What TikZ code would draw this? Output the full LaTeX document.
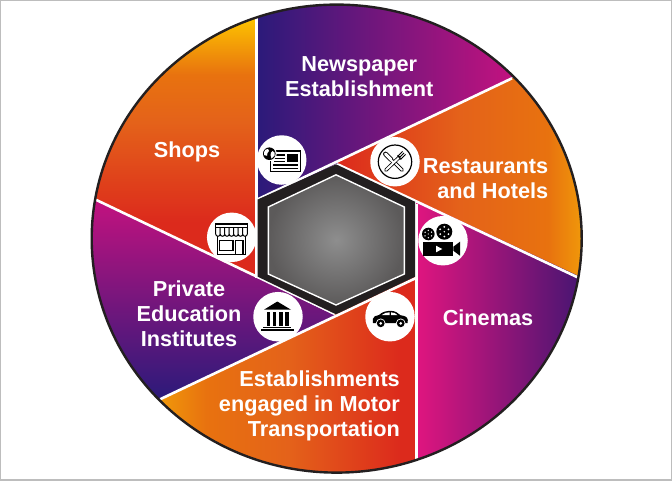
\documentclass[tikz,border=0pt]{standalone}
\usepackage{fontspec}
\setmainfont{Liberation Sans}
\definecolor{inkdark}{HTML}{231F20}
\definecolor{rimgray}{HTML}{BDBDBD}
\definecolor{hexmid}{HTML}{8E8E8E}
\definecolor{hexedge}{HTML}{5C5A5A}
\definecolor{sIndigo}{HTML}{2B1A7A}
\definecolor{sMagenta}{HTML}{C2127F}
\definecolor{sPink}{HTML}{E0157F}
\definecolor{sViolet}{HTML}{4A1572}
\definecolor{sRed}{HTML}{DC2A1C}
\definecolor{sOrange}{HTML}{E4621A}
\definecolor{sOrangeB}{HTML}{E8720F}
\definecolor{sAmber}{HTML}{F0980A}
\definecolor{sYellow}{HTML}{FDC500}
\pgfdeclarehorizontalshading{shNews}{100bp}{color(0bp)=(sIndigo); color(25bp)=(sIndigo); color(75bp)=(sMagenta); color(100bp)=(sMagenta)}
\pgfdeclarehorizontalshading{shRest}{100bp}{color(0bp)=(sRed); color(25bp)=(sRed); color(50bp)=(sOrange); color(68bp)=(sOrangeB); color(75bp)=(sAmber); color(100bp)=(sAmber)}
\pgfdeclarehorizontalshading{shCine}{100bp}{color(0bp)=(sPink); color(25bp)=(sPink); color(75bp)=(sViolet); color(100bp)=(sViolet)}
\pgfdeclarehorizontalshading{shMotor}{100bp}{color(0bp)=(sAmber); color(25bp)=(sAmber); color(34bp)=(sOrangeB); color(50bp)=(sOrange); color(72bp)=(sRed); color(100bp)=(sRed)}
\pgfdeclareverticalshading{shEdu}{100bp}{color(0bp)=(sIndigo); color(25bp)=(sIndigo); color(75bp)=(sMagenta); color(100bp)=(sMagenta)}
\pgfdeclareverticalshading{shShop}{100bp}{color(0bp)=(sRed); color(25bp)=(sRed); color(36bp)=(sRed); color(55bp)=(sOrange); color(64bp)=(sOrangeB); color(75bp)=(sYellow); color(100bp)=(sYellow)}
\tikzset{
  label text/.style={text=white,font=\fontsize{21.7}{25}\selectfont\bfseries,inner sep=0pt,align=center},
  label right/.style={label text,align=right,anchor=east},
  icon disc/.style={circle,fill=white,minimum size=49.5pt,inner sep=0pt},
  gap line/.style={white,line width=2.6pt},
  ink/.style={black,line width=1.3pt},
}
\begin{document}
\begin{tikzpicture}[x=1pt,y=-1pt]
\useasboundingbox (0,0) rectangle (672,480);
\fill[white] (0,0) rectangle (672,480);
\draw[rimgray,line width=2.6pt] (0,0) rectangle (672,480);
\def\rim{(336.7,238.6) ellipse (245 and 234)}
% wedges
\begin{scope}\clip \rim;
  \begin{scope}\clip (257,0) -- (530,0) -- (530,70) -- (338,163) -- (257,203) -- cycle;
    \shade[shading=shNews] (257,0) rectangle (512,205);
  \end{scope}
  \begin{scope}\clip (336,163) -- (600,36) -- (600,288) -- cycle;
    \shade[shading=shRest] (338,60) rectangle (582,290);
  \end{scope}
  \begin{scope}\clip (416,200) -- (600,286) -- (600,480) -- (416,480) -- cycle;
    \shade[shading=shCine] (416,200) rectangle (578,470);
  \end{scope}
  \begin{scope}\clip (416,276) -- (120,417) -- (120,480) -- (416,480) -- cycle;
    \shade[shading=shMotor] (160,276) rectangle (416,480);
  \end{scope}
  \begin{scope}\clip (336,316) -- (258,278) -- (70,188) -- (70,480) -- (150,404) -- cycle;
    \shade[shading=shEdu] (90,200) rectangle (340,400);
  \end{scope}
  \begin{scope}\clip (257,0) -- (70,0) -- (70,188) -- (257,278) -- cycle;
    \shade[shading=shShop] (90,17) rectangle (257,280);
  \end{scope}
  \draw[gap line] (512,78.3) -- (257.3,199.5);
  \draw[gap line] (578,277.5) -- (338,164.5);
  \draw[gap line] (416.6,204) -- (416.6,470);
  \draw[gap line] (160,399.3) -- (416,278);
  \draw[gap line] (96,199.8) -- (334,313.5);
  \draw[gap line] (256.6,10) -- (256.6,278);
\end{scope}
\draw[inkdark,line width=2.4pt] \rim;
% hexagon
\fill[inkdark] (336,164.3) -- (415,201.7) -- (415,276.7) -- (336,314.3) -- (257.7,276.7) -- (257.7,199.5) -- cycle;
\shade[inner color=hexmid,outer color=hexedge,draw=white,line width=1.4pt]
  (336,174.8) -- (404.3,207) -- (404.3,274) -- (336,305) -- (268.3,274) -- (268.3,207) -- cycle;
% icon discs
\node[icon disc] (discNews) at (281.7,160) {};
\node[icon disc] (discRest) at (395,161.7) {};
\node[icon disc] (discCine) at (443,240.7) {};
\node[icon disc] (discCar) at (390,316.7) {};
\node[icon disc] (discBank) at (278,316.7) {};
\node[icon disc] (discShop) at (231.7,237.3) {};
% newspaper icon
\draw[black,line width=1.5pt,fill=white] (270.7,151) rectangle (300.3,171.7);
\fill[black] (286.7,154.3) rectangle (298.3,162.3);
\foreach \yy in {155,158.3,161.7} \draw[black,line width=1.3pt] (274,\yy) -- (285,\yy);
\foreach \yy in {165,168.3} \draw[black,line width=1.3pt] (272.5,\yy) -- (298.3,\yy);
\fill[white] (269.3,153.7) circle (7.4);
\fill[black] (269.3,153.7) circle (6.3);
\fill[white] (265.5,149.7) .. controls (264,151) and (263.6,153) .. (264,155) -- (267,155.8) -- (267.5,153) -- (269,151) -- (268,149) -- cycle;
\fill[white] (272.5,151) -- (274.5,152.5) -- (274.5,155.5) -- (271.5,158.5) -- (270.5,155) -- (271,152.5) -- cycle;
% restaurant icon
\draw[black,line width=1.2pt] (395,161.7) circle (16.7);
\draw[black,line width=3.6pt,line cap=round] (402,170) -- (393,161);
\draw[white,line width=2pt,line cap=round] (402,170) -- (393,161);
\draw[black,line width=3.6pt,line cap=round] (386,170) -- (399,157.5);
\draw[white,line width=2pt,line cap=round] (386,170) -- (399,157.5);
\draw[black,line width=.9pt] (398,156) -- (402.5,151.5) (399.5,157.5) -- (404,153) (401,159) -- (405.5,154.5);
\draw[black,line width=.9pt] (397.5,155.5) -- (401,159.5);
\draw[black,line width=4.8pt,line cap=round] (385.5,154) -- (391,159.5);
\draw[white,line width=3pt,line cap=round] (385.5,154) -- (391,159.5);
\draw[white,line width=2pt] (389,158) -- (394,163);
% film camera icon
\fill[black] (423.3,241.7) rectangle (453.3,255.7);
\fill[black] (453.3,246.7) -- (460,241.7) -- (460,255.7) -- (453.3,250.7) -- cycle;
\fill[white] (436,245.7) -- (436,252.3) -- (442.3,249) -- cycle;
\fill[black] (428.3,234) circle (6.3);
\fill[black] (444.3,231.7) circle (8);
\foreach \ang in {0,60,...,300} {
  \fill[white] (428.3,234) ++(\ang+90:3.7) circle (.75);
  \fill[white] (444.3,231.7) ++(\ang+90:4.8) circle (1);
}
\fill[white] (428.3,234) circle (.6);
\fill[white] (444.3,231.7) circle (.8);
% car icon
\fill[black] (373,323) -- (372.8,319) .. controls (373,316.5) and (376,315.5) .. (379,315)
  .. controls (382,312) and (386,310.8) .. (391,310.8) .. controls (395,310.8) and (398,313) .. (400.5,315.2)
  .. controls (404,315.8) and (407.5,316.5) .. (407.8,320) -- (407.5,323) -- cycle;
\fill[white] (381.5,315.2) .. controls (384,313) and (387,312.3) .. (389.5,312.3) -- (389.5,315.2) -- cycle;
\fill[white] (391,312.3) .. controls (394,312.3) and (396,313.5) .. (397.5,315.2) -- (391,315.2) -- cycle;
\foreach \xx in {380.7,400.7} {
  \fill[white] (\xx,323.3) circle (4.8);
  \fill[black] (\xx,323.3) circle (3.9);
  \fill[white] (\xx,323.3) circle (1.5);
}
% bank icon
\fill[black] (277.3,301.5) -- (291,309.7) -- (264,309.7) -- cycle;
\foreach \xa/\xb in {266.7/270.4,272.7/276.4,279.3/283,285/288.7} \fill[black] (\xa,312) rectangle (\xb,326.3);
\fill[black] (262.7,326.6) rectangle (290.5,328);
\fill[black] (261,329.2) rectangle (293.7,330.6);
% shop icon
\draw[ink,fill=white] (217.5,235) rectangle (245.3,254.7);
\draw[ink] (219.7,240.3) rectangle (233,250.3);
\draw[ink] (235.7,254.7) -- (235.7,240.3) -- (243,240.3) -- (243,254.7);
\draw[ink,fill=white] (215.7,224) rectangle (247.3,228);
\foreach \xx in {215.7,220.2,224.7,229.2,233.7,238.2,242.7} {
  \draw[black,line width=1pt,fill=white] (\xx,228) -- (\xx,234) arc[start angle=180,end angle=0,radius=2.3] -- (\xx+4.6,228);
}
% labels
\node[label text] (lblNews) at (359.3,77) {Newspaper\\Establishment};
\node[label right] (lblRest) at (548.5,178.5) {Restaurants\\and Hotels};
\node[label text] (lblCine) at (488,318) {Cinemas};
\node[label right] (lblMotor) at (400,405.5) {Establishments\\engaged in Motor\\Transportation};
\node[label text] (lblEdu) at (189,314) {Private\\Education\\Institutes};
\node[label text] (lblShop) at (187,151.5) {Shops};
\end{tikzpicture}
\end{document}
